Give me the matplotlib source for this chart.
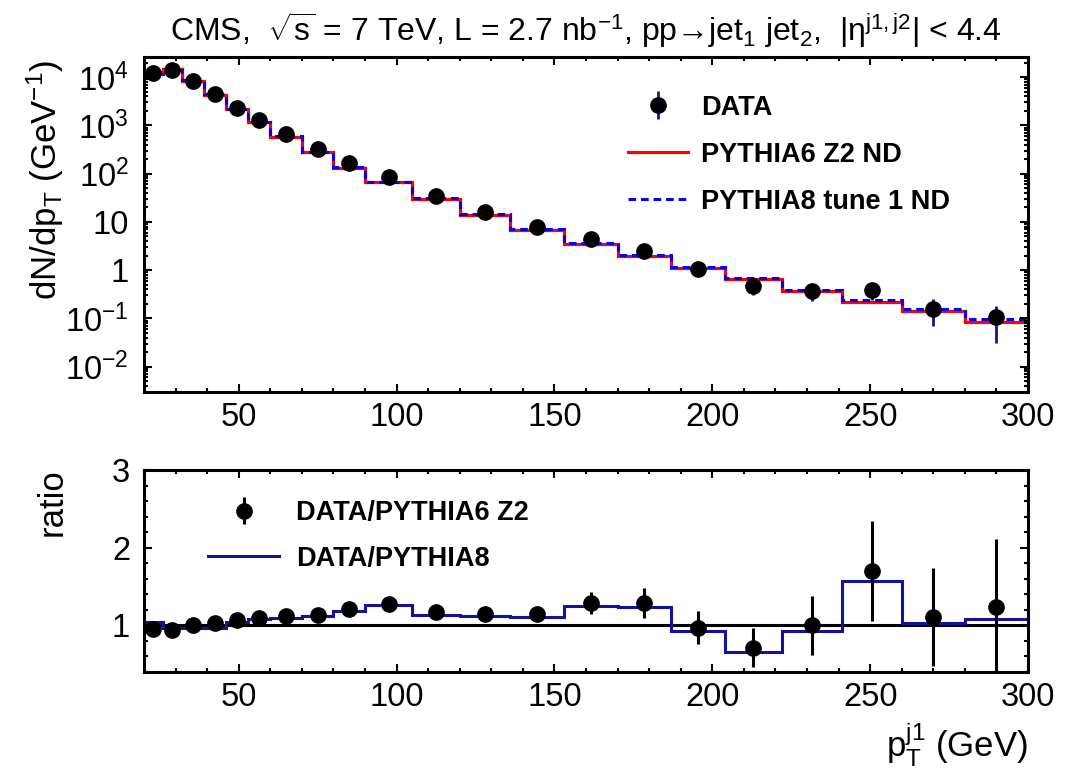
import matplotlib
matplotlib.use("Agg")
import matplotlib.pyplot as plt
from matplotlib.ticker import MultipleLocator, LogLocator, NullFormatter
import numpy as np

plt.rcParams["font.family"] = ["Liberation Sans", "DejaVu Sans"]
plt.rcParams["mathtext.fontset"] = "custom"
plt.rcParams["mathtext.rm"] = "Liberation Sans"
plt.rcParams["mathtext.it"] = "Liberation Sans"
plt.rcParams["mathtext.bf"] = "Liberation Sans:bold"

# pT bin edges (GeV)
EDGES = [20, 26, 32, 39, 46, 53, 60, 70, 80, 90, 105, 120, 136, 153, 170,
         187, 204, 222, 241, 260, 280, 300]

# dN/dpT
DATA = [1.23e4, 1.38e4, 8.3e3, 4.4e3, 2.33e3, 1.26e3, 650, 318, 162, 85, 34.6,
        16.0, 7.8, 4.5, 2.5, 1.07, 0.46, 0.37, 0.38, 0.16, 0.105]
DATA_ERR = [258, 290, 166, 106, 65, 34, 20, 11, 6.6, 3.3, 1.8, 0.98, 0.61,
            0.49, 0.37, 0.23, 0.16, 0.14, 0.14, 0.09, 0.074]
PY6 = [1.295e4, 1.468e4, 8.3e3, 4.25e3, 2.17e3, 1.145e3, 580, 281, 133, 66.7,
       29.6, 13.9, 6.78, 3.50, 1.95, 1.10, 0.648, 0.37, 0.224, 0.144, 0.0847]
PY8 = [1.175e4, 1.43e4, 8.57e3, 4.53e3, 2.225e3, 1.17e3, 592, 284, 137, 67.5,
       30.7, 14.3, 7.03, 3.61, 2.02, 1.15, 0.697, 0.398, 0.242, 0.155, 0.0968]

# ratios
RATIO6 = [0.95, 0.94, 1.0, 1.035, 1.075, 1.10, 1.12, 1.13, 1.215, 1.275, 1.17,
          1.15, 1.15, 1.285, 1.285, 0.97, 0.71, 1.0, 1.70, 1.11, 1.24]
RATIO6_ERR = [0.02, 0.02, 0.02, 0.025, 0.03, 0.03, 0.035, 0.04, 0.05, 0.05, 0.06,
              0.07, 0.09, 0.14, 0.19, 0.21, 0.25, 0.38, 0.64, 0.63, 0.87]
RATIO8 = [1.047, 0.965, 0.968, 0.972, 1.047, 1.077, 1.098, 1.12, 1.183, 1.26,
          1.128, 1.12, 1.11, 1.245, 1.24, 0.93, 0.66, 0.93, 1.57, 1.03, 1.085]

YTICKS = [1e-2, 1e-1, 1, 10, 1e2, 1e3, 1e4]
YTICKLABELS = ["$10^{-2}$", "$10^{-1}$", "1", "10", "$10^{2}$", "$10^{3}$", "$10^{4}$"]

NAVY = "#12129a"
W, H = 1074, 777

edges = np.array(EDGES, dtype=float)
centers = 0.5 * (edges[1:] + edges[:-1])

fig = plt.figure(figsize=(W / 100, H / 100), dpi=100)
ax1 = fig.add_axes([144 / W, 1 - 392 / H, 884 / W, 335 / H])
ax2 = fig.add_axes([144 / W, 1 - 672 / H, 884 / W, 202 / H])


def style(ax, ypad):
    for s in ax.spines.values():
        s.set_linewidth(2.2)
    ax.tick_params(which="both", direction="in", top=True, right=True, width=1.5)
    ax.tick_params(which="major", length=6, labelsize=23.5)
    ax.tick_params(which="minor", length=3)
    ax.tick_params(axis="x", pad=7)
    ax.tick_params(axis="y", pad=ypad)
    ax.set_xlim(20, 300)
    ax.xaxis.set_major_locator(MultipleLocator(50))
    ax.xaxis.set_minor_locator(MultipleLocator(10))


# --- upper panel
style(ax1, 11)
ax1.set_yscale("log")
ax1.set_ylim(3e-3, 2.6e4)
ax1.set_yticks(YTICKS)
ax1.set_yticklabels(YTICKLABELS)
ax1.yaxis.set_minor_locator(LogLocator(base=10, subs=np.arange(2, 10), numticks=20))
ax1.yaxis.set_minor_formatter(NullFormatter())

h6 = ax1.stairs(PY6, edges, color="red", lw=2.3, baseline=None)
h8 = ax1.stairs(PY8, edges, color="blue", lw=2.2, ls=(0, (2.5, 1.6)), baseline=None)
hd = ax1.errorbar(centers, DATA, yerr=DATA_ERR, fmt="o", color="black", ms=11,
                  ecolor=NAVY, elinewidth=2, capsize=0, zorder=5)

ax1.legend([hd, h6, h8], ["DATA", "PYTHIA6 Z2 ND", "PYTHIA8 tune 1 ND"],
           loc="upper left", bbox_to_anchor=(0.547, 0.888), frameon=False,
           prop={"weight": "bold", "size": 19.5}, handlelength=2.25,
           handletextpad=0.45, labelspacing=0.78, borderpad=0, borderaxespad=0)

# --- ratio panel
style(ax2, 10)
ax2.set_ylim(0.4, 3.0)
ax2.yaxis.set_major_locator(MultipleLocator(1))
ax2.yaxis.set_minor_locator(MultipleLocator(0.2))
ax2.axhline(1, color="black", lw=2.2, zorder=1)
hr8 = ax2.stairs(RATIO8, edges, color=NAVY, lw=2.2, baseline=None)
hr6 = ax2.errorbar(centers, RATIO6, yerr=RATIO6_ERR, fmt="o", color="black", ms=11,
                   ecolor="black", elinewidth=2.2, capsize=0, zorder=5)
ax2.legend([hr6, hr8], ["DATA/PYTHIA6 Z2", "DATA/PYTHIA8"], loc="upper left",
           bbox_to_anchor=(0.072, 0.85), frameon=False,
           prop={"weight": "bold", "size": 19.5}, handlelength=2.65,
           handletextpad=0.6, labelspacing=0.72, borderpad=0, borderaxespad=0)

# --- labels
fig.text(45 / W, 1 - 60 / H, "dN/dp$_{T}$ (GeV$^{-1}$)", rotation=90,
         ha="center", va="top", fontsize=25)
fig.text(52 / W, 1 - 468 / H, "ratio", rotation=90, ha="center", va="top", fontsize=25)
fig.text(1028 / W, 1 - 745 / H, "p$_{T}^{j1}$ (GeV)", ha="right", va="center", fontsize=25)
fig.text(586 / W, 1 - 30 / H,
         r"CMS,  $\sqrt{s}$ = 7 TeV, L = 2.7 nb$^{-1}$, pp→jet$_{1}$ jet$_{2}$,  "
         r"|η$^{j1,j2}$| < 4.4", ha="center", va="center", fontsize=23)

fig.savefig("out.png", dpi=100, facecolor="white")
